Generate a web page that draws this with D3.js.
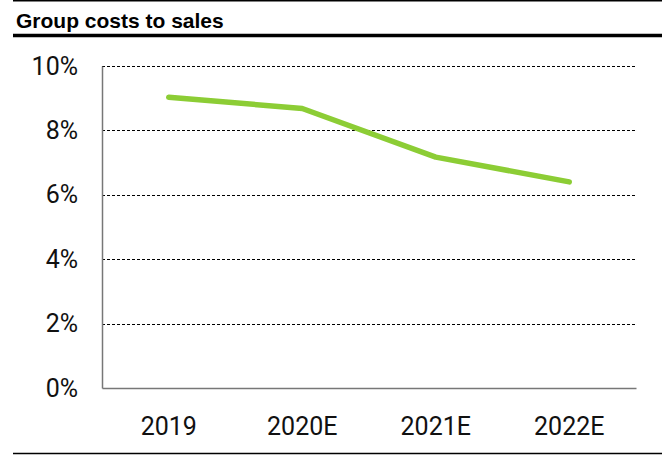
<!DOCTYPE html>
<html>
<head>
<meta charset="utf-8">
<script src="https://cdn.jsdelivr.net/npm/d3@7"></script>
<style>
  html, body { margin: 0; padding: 0; background: #fff; }
  svg { display: block; }
</style>
</head>
<body>
<svg id="chart" width="662" height="455"></svg>
<script>
// Group costs as a share of sales, actual and estimates
const categories = ["2019", "2020E", "2021E", "2022E"];
const costsToSales = [9.03, 8.68, 7.17, 6.40];
const yTicks = [0, 2, 4, 6, 8, 10];
const titleText = "Group costs to sales";

const svg = d3.select("#chart");
const W = 662, H = 455;
const margin = { left: 102, right: 26, top: 66, bottom: 67 };
const labelFont = "Roboto, 'Liberation Sans', sans-serif";

// Top and header rules
svg.append("line").attr("x1", 13).attr("x2", W).attr("y1", 0.75).attr("y2", 0.75)
  .attr("stroke", "#000").attr("stroke-width", 1.5);
svg.append("text").attr("x", 16).attr("y", 28)
  .attr("font-family", "'Liberation Sans', Arial, sans-serif")
  .attr("font-weight", 700).attr("font-size", 21).attr("fill", "#000")
  .text(titleText);
svg.append("line").attr("x1", 13).attr("x2", W).attr("y1", 35.5).attr("y2", 35.5)
  .attr("stroke", "#000").attr("stroke-width", 3.5);
svg.append("line").attr("x1", 13).attr("x2", W).attr("y1", 453.5).attr("y2", 453.5)
  .attr("stroke", "#000").attr("stroke-width", 1.5);

const x = d3.scaleBand().domain(categories)
  .range([margin.left, W - margin.right]).padding(0);
const y = d3.scaleLinear().domain([0, 10])
  .range([H - margin.bottom, margin.top]);

// Dashed gridlines
svg.append("g").selectAll("line").data(yTicks.filter(d => d > 0)).join("line")
  .attr("x1", margin.left).attr("x2", W - margin.right)
  .attr("y1", d => Math.round(y(d)) + 0.5).attr("y2", d => Math.round(y(d)) + 0.5)
  .attr("stroke", "#000").attr("stroke-width", 1).attr("stroke-dasharray", "3,2");

// Axes
const yAxis = svg.append("g").attr("transform", `translate(${margin.left},0)`)
  .call(d3.axisLeft(y).tickValues(yTicks).tickSize(0).tickPadding(24)
    .tickFormat(d => d + "%"));
const xAxis = svg.append("g").attr("transform", `translate(0,${H - margin.bottom})`)
  .call(d3.axisBottom(x).tickSize(0).tickPadding(29));
[yAxis, xAxis].forEach(g => {
  g.select(".domain").attr("stroke", "#777").attr("stroke-width", 1.5);
  g.selectAll("text").attr("font-family", labelFont)
    .attr("font-weight", 400).attr("font-size", 25).attr("fill", "#111");
});

// Series line
const line = d3.line()
  .x((d, i) => x(categories[i]) + x.bandwidth() / 2)
  .y(d => y(d));
svg.append("path").datum(costsToSales)
  .attr("d", line).attr("fill", "none")
  .attr("stroke", "#8ccd35").attr("stroke-width", 5.5)
  .attr("stroke-linecap", "round").attr("stroke-linejoin", "round");
</script>
</body>
</html>
